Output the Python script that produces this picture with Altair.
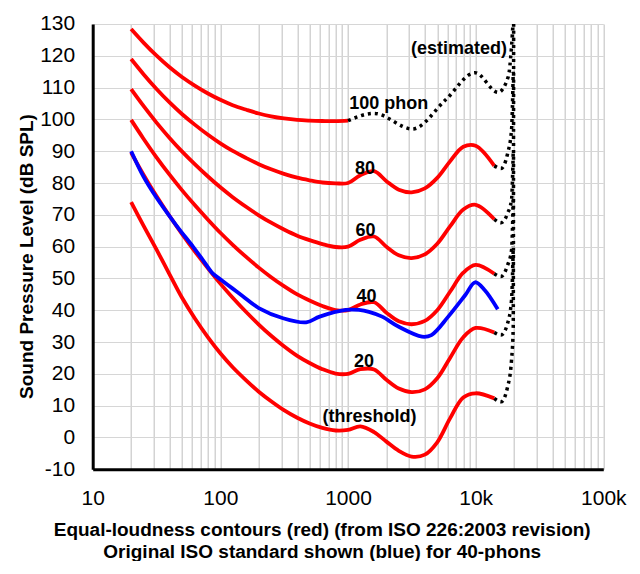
import altair as alt
import pandas as pd

# ---- data (ISO 226:2003 contour values) ----
freqs = [20, 25, 31.5, 40, 50, 63, 80, 100, 125, 160, 200, 250, 315, 400, 500,
         630, 800, 1000, 1250, 1600, 2000, 2500, 3150, 4000, 5000, 6300, 8000,
         10000, 14000]

threshold = [74.0, 66.6, 59.2, 51.3, 44.0, 37.5, 31.5, 26.5, 22.1, 17.9, 14.4,
             11.4, 8.6, 6.2, 4.4, 3.0, 2.2, 2.4, 3.5, 1.7, -1.3, -4.2, -6.0,
             -5.4, -1.5, 6.0, 12.6, 13.9, 12.3]
phon20 = [89.58, 82.65, 75.98, 69.62, 64.02, 58.55, 53.19, 48.38, 43.94, 39.37,
          35.51, 31.99, 28.69, 25.67, 23.43, 21.48, 20.10, 20.01, 21.46, 21.40,
          18.15, 15.38, 14.26, 15.14, 18.63, 25.02, 31.52, 34.43, 33.04]
phon40 = [99.85, 93.94, 88.17, 82.63, 77.78, 73.08, 68.48, 64.37, 60.59, 56.70,
          53.41, 50.40, 47.58, 44.98, 43.05, 41.34, 40.06, 40.01, 41.82, 42.51,
          39.23, 36.51, 35.61, 36.65, 40.01, 45.83, 51.80, 54.28, 51.49]
phon60 = [109.51, 104.23, 99.08, 94.18, 89.96, 85.94, 82.05, 78.65, 75.56, 72.47,
          69.86, 67.53, 65.39, 63.45, 62.05, 60.81, 59.89, 60.01, 62.15, 63.19,
          59.96, 57.26, 56.42, 57.57, 60.89, 66.36, 71.66, 73.16, 68.63]
phon80 = [118.99, 114.23, 109.65, 105.34, 101.72, 98.36, 95.17, 92.48, 90.09,
          87.82, 85.92, 84.31, 82.89, 81.68, 80.86, 80.17, 79.90, 80.01, 82.48,
          83.74, 80.59, 77.88, 77.07, 78.31, 81.62, 86.81, 91.41, 91.74, 85.41]
phon100_freqs = [20, 25, 31.5, 40, 50, 63, 80, 100, 125, 160, 200, 250, 315,
                 400, 500, 630, 800, 1000]
phon100 = [128.41, 124.15, 120.11, 116.38, 113.35, 110.65, 108.16, 106.17,
           104.48, 103.03, 101.85, 100.97, 100.30, 99.83, 99.62, 99.50, 99.44,
           99.60]

# original ISO 40-phon curve (blue)
blue_freq = [20, 25, 30, 45, 61, 73, 87, 101, 125, 150, 200, 310, 470, 600,
             960, 1220, 1460, 1850, 2500, 3800, 4500, 6100, 8300, 9900, 11800,
             14900]
blue_level = [90.0, 82.0, 76.8, 66.8, 60.0, 55.8, 51.6, 49.6, 46.8, 44.4, 40.7,
              37.5, 36.2, 38.0, 40.1, 40.1, 39.5, 38.0, 34.8, 31.7, 32.2, 38.0,
              44.8, 48.8, 46.3, 40.3]

# estimated (dotted) extensions
dot100_freq = [1000, 1600, 3200, 5800, 9900, 15000, 18000, 19100, 19600]
dot100_level = [99.6, 101.9, 97.0, 106.1, 114.7, 108.5, 113.4, 122.9, 130.0]
dot80_freq = [14000, 15800, 17800, 19100, 19700]
dot80_level = [85.4, 84.6, 89.3, 96.7, 115.0]
dot60_freq = [14000, 15800, 17800, 19100, 19700]
dot60_level = [68.6, 67.5, 70.5, 74.7, 90.0]
dot40_freq = [14000, 15800, 17800, 19100, 19700]
dot40_level = [51.5, 50.6, 54.2, 58.9, 75.0]
dot20_freq = [14000, 15800, 17800, 19100, 19700]
dot20_level = [33.0, 32.2, 35.9, 43.2, 60.0]
dotth_freq = [14000, 15800, 17800, 19100, 19700, 19850]
dotth_level = [12.3, 11.2, 15.9, 24.3, 34.8, 130.0]

# annotations
label_text = ["100 phon", "80", "60", "40", "20", "(threshold)", "(estimated)"]
label_freq = [2084, 1361, 1370, 1395, 1332, 1473, 7396]
label_level = [104.8, 84.3, 64.9, 44.1, 23.6, 6.3, 122.1]

# axis ticks
x_grid = [10, 20, 30, 40, 50, 60, 70, 80, 90,
          100, 200, 300, 400, 500, 600, 700, 800, 900,
          1000, 2000, 3000, 4000, 5000, 6000, 7000, 8000, 9000,
          10000, 20000, 30000, 40000, 50000, 60000, 70000, 80000, 90000,
          100000]
y_ticks = [-10, 0, 10, 20, 30, 40, 50, 60, 70, 80, 90, 100, 110, 120, 130]

# ---- tables ----
red_rows = []
for name, vals in [("threshold", threshold), ("20", phon20), ("40", phon40),
                   ("60", phon60), ("80", phon80)]:
    for f, v in zip(freqs, vals):
        red_rows.append({"curve": name, "freq": f, "level": v})
for f, v in zip(phon100_freqs, phon100):
    red_rows.append({"curve": "100", "freq": f, "level": v})
red_df = pd.DataFrame(red_rows)

blue_df = pd.DataFrame({"freq": blue_freq, "level": blue_level})

dot_rows = []
for name, fs, vs in [("100", dot100_freq, dot100_level),
                     ("80", dot80_freq, dot80_level),
                     ("60", dot60_freq, dot60_level),
                     ("40", dot40_freq, dot40_level),
                     ("20", dot20_freq, dot20_level),
                     ("th", dotth_freq, dotth_level)]:
    for f, v in zip(fs, vs):
        dot_rows.append({"curve": name, "freq": f, "level": v})
dot_df = pd.DataFrame(dot_rows)

lab_df = pd.DataFrame({"text": label_text, "freq": label_freq,
                       "level": label_level})

FONT = "Liberation Sans"

label_expr = ("datum.value == 10 ? '10' : datum.value == 100 ? '100' : "
              "datum.value == 1000 ? '1000' : datum.value == 10000 ? '10k' : "
              "datum.value == 100000 ? '100k' : ''")

x_axis = alt.Axis(values=x_grid, labelExpr=label_expr,
                  labelOverlap=False, labelFlush=False,
                  labelFontSize=21, labelColor="black",
                  labelPadding=18, ticks=False,
                  domainColor="black", domainWidth=3,
                  gridColor="#c8c8c8", gridWidth=1.2,
                  title=["Equal-loudness contours (red) (from ISO 226:2003 revision)",
                         "Original ISO standard shown (blue) for 40-phons"],
                  titleFontSize=19, titleFontWeight="bold",
                  titleColor="black", titleLineHeight=22,
                  titleAlign="center", titleBaseline="alphabetic",
                  titleX=229, titleY=66)
y_axis = alt.Axis(values=y_ticks, labelExpr="'' + datum.value",
                  labelOverlap=False, labelFlush=False, labelSeparation=0,
                  labelFontSize=21,
                  labelColor="black", labelPadding=18, ticks=False,
                  domainColor="black", domainWidth=3,
                  gridColor="#d6d6d6", gridWidth=1.2,
                  title="Sound Pressure Level (dB SPL)",
                  titleFontSize=19, titleFontWeight="bold",
                  titleColor="black", titleAngle=270,
                  titleAlign="center", titleBaseline="alphabetic",
                  titleX=-60, titleY=232)

x_scale = alt.Scale(type="log", domain=[10, 100000], nice=False)
y_scale = alt.Scale(domain=[-10, 130], nice=False, zero=False)


def xe():
    return alt.X("freq:Q", scale=x_scale, axis=x_axis)


def ye():
    return alt.Y("level:Q", scale=y_scale, axis=y_axis)


red = alt.Chart(red_df).mark_line(
    color="#ff0000", strokeWidth=3.8, interpolate="catmull-rom"
).encode(x=xe(), y=ye(), detail="curve:N")

blue = alt.Chart(blue_df).mark_line(
    color="#0000ff", strokeWidth=3.8, interpolate="catmull-rom"
).encode(x=xe(), y=ye())

dots = alt.Chart(dot_df).mark_line(
    color="black", strokeWidth=3.5, strokeDash=[3, 4], interpolate="monotone"
).encode(x=xe(), y=ye(), detail="curve:N")

labels = alt.Chart(lab_df).mark_text(
    font=FONT, fontSize=18, fontWeight="bold", color="black",
    align="center", baseline="middle"
).encode(x=xe(), y=ye(), text="text:N")

chart = alt.layer(red, blue, dots, labels).properties(
    width=510.6, height=445.3,
    padding={"left": 84.7, "top": 16, "right": 25, "bottom": 92},
    autosize="none",
).configure(font=FONT).configure_view(strokeWidth=0).configure_axis(
    labelOverlap=False
)

chart.save("out.html", embed_options={"renderer": "svg", "actions": False})
